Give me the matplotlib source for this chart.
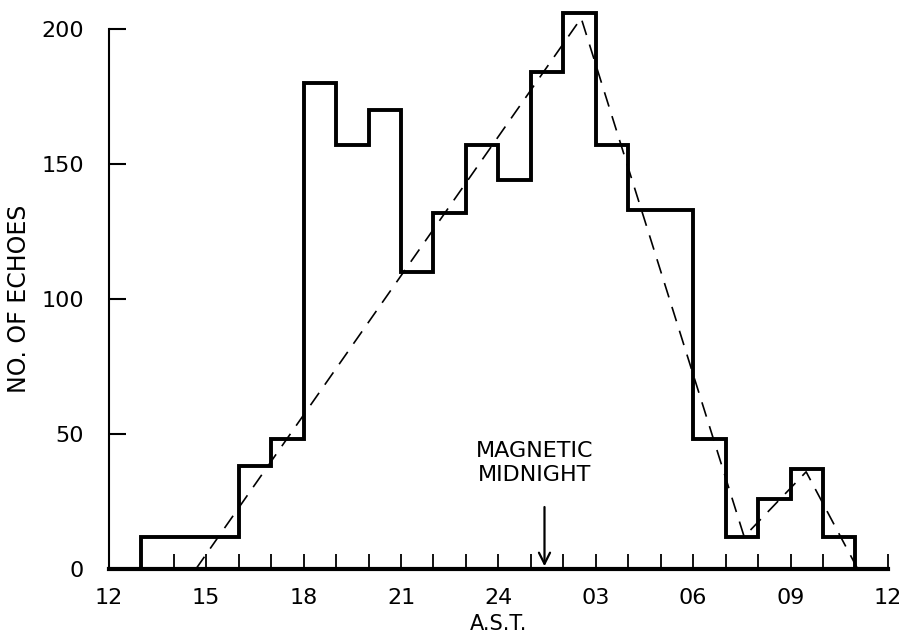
import matplotlib
matplotlib.use("Agg")
import matplotlib.pyplot as plt
import numpy as np

# hourly bins, hours counted from noon (12) through 36 (= noon next day)
bin_edges = [13, 14, 15, 16, 17, 18, 19, 20, 21, 22, 23, 24, 25, 26, 27, 28, 29, 30, 31, 32, 33, 34, 35]
echo_counts = [12, 12, 12, 38, 48, 180, 157, 170, 110, 132, 157, 144, 184, 206, 157, 133, 133, 48, 12, 26, 37, 12]

# dashed trend line vertices
trend_x = [14.68, 26.55, 31.57, 33.48, 35.07]
trend_y = [0, 204, 12, 36, 0]

tick_hours = [12, 15, 18, 21, 24, 27, 30, 33, 36]
tick_labels = ["12", "15", "18", "21", "24", "03", "06", "09", "12"]
magnetic_midnight = 25.42

plt.rcParams['font.family'] = ['DejaVu Sans']

fig = plt.figure(figsize=(9.07, 6.43), dpi=100)
ax = fig.add_axes([0.120, 0.115, 0.859, 0.840])

ax.stairs(echo_counts, bin_edges, color='black', linewidth=2.8, baseline=0, clip_on=False)
ax.plot(trend_x, trend_y, color='black', linewidth=1.2, dashes=(9, 6), clip_on=False)

ax.set_xlim(12, 36)
ax.set_ylim(0, 200)

ax.spines['top'].set_visible(False)
ax.spines['right'].set_visible(False)
ax.spines['left'].set_linewidth(1.5)
ax.spines['bottom'].set_linewidth(3)

ax.set_xticks(tick_hours)
ax.set_xticklabels(tick_labels)
ax.set_xticks(np.arange(12, 37, 1), minor=True)
ax.set_yticks([0, 50, 100, 150, 200])

ax.tick_params(axis='x', which='both', direction='in', length=11, width=1.3, labelsize=16, pad=14)
ax.tick_params(axis='y', which='major', direction='in', length=12, width=1.5, labelsize=16, pad=18)

ax.set_xlabel("A.S.T.", fontsize=15, labelpad=4)
ax.set_ylabel("NO. OF ECHOES", fontsize=17)
ax.yaxis.set_label_coords(-0.100, 0.5)

ax.annotate("", xy=(magnetic_midnight, 0), xytext=(magnetic_midnight, 24),
            arrowprops=dict(arrowstyle='->', color='black', lw=1.6, mutation_scale=20))
ax.text(magnetic_midnight - 0.3, 31, "MAGNETIC\nMIDNIGHT", ha='center', va='bottom',
        fontsize=16, linespacing=1.25)

fig.savefig("out.png", dpi=100)
